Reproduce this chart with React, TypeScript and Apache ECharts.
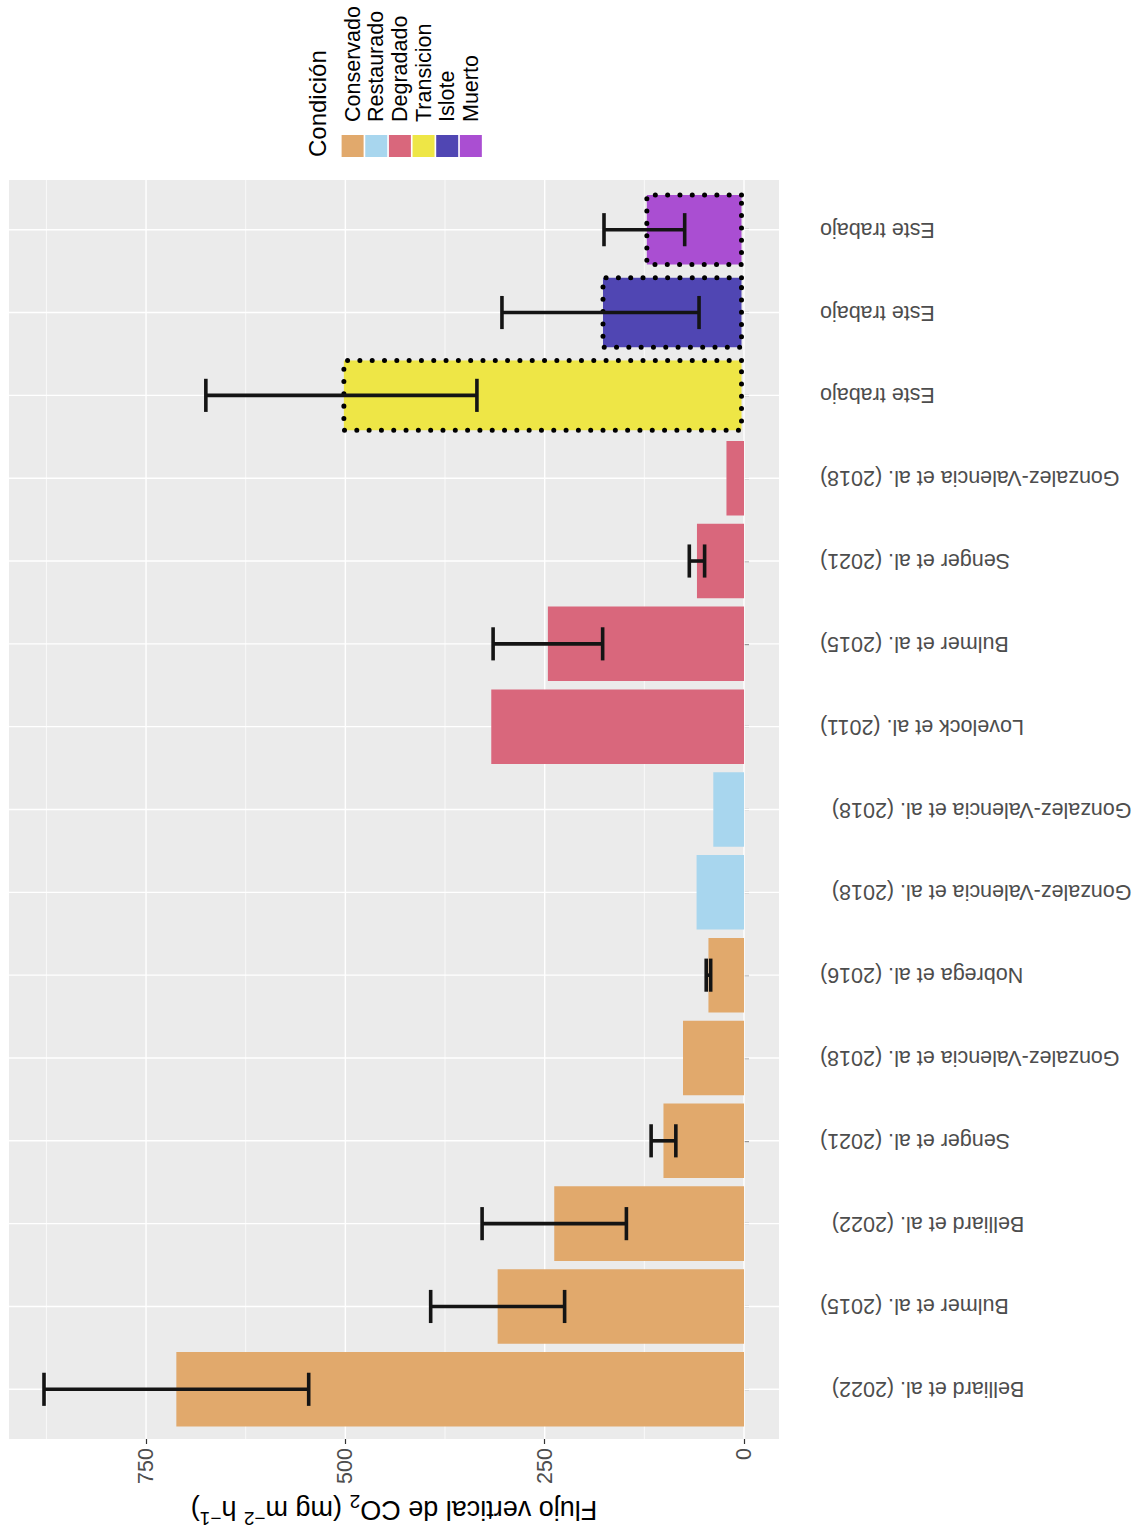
import { useEffect, useRef } from "react";
import * as echarts from "echarts";

// Studies, listed from the first bar (bottom) to the last (top).
// Repeated studies carry trailing spaces so each factor level stays distinct.
const CATEGORIES = [
  "Belliard et al. (2022)  ",
  "Bulmer et al. (2015)",
  "Belliard et al. (2022)  ",
  "Senger et al. (2021)",
  "Gonzalez-Valencia et al. (2018)",
  "Nobrega et al. (2016)",
  "Gonzalez-Valencia et al. (2018)  ",
  "Gonzalez-Valencia et al. (2018)  ",
  "Lovelock et al. (2011)",
  "Bulmer et al. (2015)",
  "Senger et al. (2021)",
  "Gonzalez-Valencia et al. (2018)",
  "Este trabajo",
  "Este trabajo",
  "Este trabajo",
];

// Mangrove condition of each bar
const BAR_CONDITION = [
  "Conservado",
  "Conservado",
  "Conservado",
  "Conservado",
  "Conservado",
  "Conservado",
  "Restaurado",
  "Restaurado",
  "Degradado",
  "Degradado",
  "Degradado",
  "Degradado",
  "Transicion",
  "Islote",
  "Muerto",
];

// Mean vertical CO2 flux (mg m-2 h-1) and its error (null = not reported)
const FLUX = [712, 309, 238, 101, 76.5, 44.6, 59.5, 38.5, 317, 246, 59, 22, 505, 180, 125];
const FLUX_ERR = [166, 84, 90.5, 15.5, null, 2.8, null, null, null, 68.7, 9.6, null, 170, 123.6, 50.6];

// Bars measured in this work get a dotted outline
const THIS_WORK = [false, false, false, false, false, false, false, false, false, false, false, false, true, true, true];

// Legend
const CONDITIONS = ["Conservado", "Restaurado", "Degradado", "Transicion", "Islote", "Muerto"];
const CONDITION_COLORS = ["#E1A96C", "#A8D6EE", "#D9677C", "#EEE646", "#5046B3", "#AA4ED2"];

// Value axis breaks
const MAJOR_BREAKS = [0, 250, 500, 750];
const MINOR_BREAKS = [-125, 125, 375, 625, 875];

const FONT = "'Liberation Sans', Arial, Helvetica, sans-serif";

// Panel box; the discrete axis is padded by 0.6 of a band on each side
const PANEL_LEFT = 9;
const PANEL_TOP = 180;
const PANEL_WIDTH = 770;
const PANEL_HEIGHT = 1259;

export default function App() {
  const ref = useRef<HTMLDivElement>(null);

  useEffect(() => {
    if (!ref.current) return;
    const chart = echarts.init(ref.current, undefined, { renderer: "svg" });

    const n = CATEGORIES.length;
    // categories sit at 1..n, panel spans 0.4 .. n + 0.6
    const band = PANEL_HEIGHT / (n + 0.2);
    const ext = band * 0.1;

    const upper = FLUX.map((v, i) => v + (FLUX_ERR[i] ?? 0));
    const dataMax = Math.max(...upper);
    const pad = dataMax * 0.05;
    const xMin = -pad;
    const xMax = dataMax + pad;

    const colorOf = (c: string) => CONDITION_COLORS[CONDITIONS.indexOf(c)];

    const barData = FLUX.map((v, i) => ({
      value: v,
      itemStyle: THIS_WORK[i]
        ? {
            color: colorOf(BAR_CONDITION[i]),
            borderColor: "#000",
            borderWidth: 5,
            borderType: [0.01, 12.3],
            borderCap: "round",
          }
        : { color: colorOf(BAR_CONDITION[i]), borderWidth: 0 },
    }));

    const errData = FLUX.map((v, i) =>
      FLUX_ERR[i] == null ? null : [v - (FLUX_ERR[i] as number), v + (FLUX_ERR[i] as number), i]
    ).filter((d) => d !== null);

    const valueGrid = (breaks: number[], width: number) => ({
      type: "custom",
      z: 1,
      silent: true,
      clip: false,
      data: breaks.filter((b) => b > xMin && b < xMax).map((b) => [b, 0]),
      encode: { x: 0, y: 1 },
      renderItem: (params: any, api: any) => {
        const cs = params.coordSys;
        const x = api.coord([api.value(0), 0])[0];
        return {
          type: "line",
          shape: { x1: x, y1: cs.y - ext, x2: x, y2: cs.y + cs.height + ext },
          style: { stroke: "#FFFFFF", lineWidth: width },
        };
      },
    });

    const legendGraphics: any[] = [
      {
        type: "text",
        x: 317,
        y: 157,
        rotation: Math.PI / 2,
        style: {
          text: "Condición",
          fontSize: 24,
          fontFamily: FONT,
          fill: "#000",
          align: "left",
          verticalAlign: "middle",
        },
      },
    ];
    CONDITIONS.forEach((c, k) => {
      const x0 = 341.6 + k * 23.65;
      legendGraphics.push({
        type: "rect",
        shape: { x: x0, y: 135, width: 22, height: 22 },
        style: { fill: CONDITION_COLORS[k] },
      });
      legendGraphics.push({
        type: "text",
        x: x0 + 11,
        y: 122,
        rotation: Math.PI / 2,
        style: {
          text: c,
          fontSize: 21.5,
          fontFamily: FONT,
          fill: "#000",
          align: "left",
          verticalAlign: "middle",
        },
      });
    });

    const tickLine = { color: "#333333", width: 1.2 };

    chart.setOption({
      animation: false,
      backgroundColor: "#FFFFFF",
      textStyle: { fontFamily: FONT },
      grid: {
        left: PANEL_LEFT,
        top: PANEL_TOP + ext,
        width: PANEL_WIDTH,
        height: n * band,
        show: false,
        containLabel: false,
        outerBoundsMode: "none",
      },
      xAxis: {
        type: "value",
        inverse: true,
        min: xMin,
        max: xMax,
        position: "bottom",
        offset: ext,
        axisLine: { show: false },
        axisTick: { show: true, customValues: MAJOR_BREAKS, length: 5, lineStyle: tickLine },
        axisLabel: {
          customValues: MAJOR_BREAKS,
          rotate: 90,
          margin: 9,
          fontSize: 21.5,
          color: "#4D4D4D",
          fontFamily: FONT,
        },
        splitLine: { show: false },
        name: "{b|Flujo vertical de CO}{s|2}{b| (mg m}{p|−2}{b| h}{p|−1}{b|)}",
        nameLocation: "middle",
        nameGap: 50,
        nameRotate: 180,
        nameTextStyle: {
          color: "#000",
          fontFamily: FONT,
          rich: {
            b: { fontSize: 27, lineHeight: 36, color: "#000", fontFamily: FONT },
            s: { fontSize: 19, lineHeight: 19, verticalAlign: "bottom", color: "#000", fontFamily: FONT },
            p: { fontSize: 19, lineHeight: 19, verticalAlign: "top", color: "#000", fontFamily: FONT },
          },
        },
      },
      yAxis: {
        type: "category",
        data: CATEGORIES,
        position: "right",
        axisLine: { show: false },
        axisTick: { show: true, alignWithLabel: true, length: 5, lineStyle: tickLine },
        axisLabel: {
          interval: 0,
          rotate: 180,
          margin: 41,
          padding: [16, 0, 0, 0],
          fontSize: 21.5,
          color: "#4D4D4D",
          fontFamily: FONT,
        },
        splitLine: { show: false },
      },
      series: [
        {
          // grey panel background
          type: "custom",
          z: 0,
          silent: true,
          clip: false,
          data: [[0, 0]],
          encode: { x: 0, y: 1 },
          renderItem: (params: any) => {
            const cs = params.coordSys;
            return {
              type: "rect",
              shape: { x: cs.x, y: cs.y - ext, width: cs.width, height: cs.height + 2 * ext },
              style: { fill: "#EBEBEB" },
            };
          },
        },
        valueGrid(MINOR_BREAKS, 0.7),
        valueGrid(MAJOR_BREAKS, 1.4),
        {
          type: "custom",
          z: 1,
          silent: true,
          data: CATEGORIES.map((_, i) => [0, i]),
          encode: { x: 0, y: 1 },
          renderItem: (params: any, api: any) => {
            const cs = params.coordSys;
            const y = api.coord([0, api.value(1)])[1];
            return {
              type: "line",
              shape: { x1: cs.x, y1: y, x2: cs.x + cs.width, y2: y },
              style: { stroke: "#FFFFFF", lineWidth: 1.4 },
            };
          },
        },
        {
          type: "bar",
          z: 2,
          barWidth: "90%",
          data: barData,
        },
        {
          type: "custom",
          z: 3,
          silent: true,
          data: errData,
          encode: { x: [0, 1], y: 2 },
          renderItem: (params: any, api: any) => {
            const idx = api.value(2);
            const lo = api.coord([api.value(0), idx]);
            const hi = api.coord([api.value(1), idx]);
            const half = api.size([0, 1])[1] * 0.2;
            const style = { stroke: "#141414", lineWidth: 3.6 };
            return {
              type: "group",
              children: [
                { type: "line", shape: { x1: lo[0], y1: lo[1], x2: hi[0], y2: hi[1] }, style },
                { type: "line", shape: { x1: lo[0], y1: lo[1] - half, x2: lo[0], y2: lo[1] + half }, style },
                { type: "line", shape: { x1: hi[0], y1: hi[1] - half, x2: hi[0], y2: hi[1] + half }, style },
              ],
            };
          },
        },
      ],
      graphic: legendGraphics,
    });

    return () => chart.dispose();
  }, []);

  return (
    <div
      ref={ref}
      style={{ position: "absolute", left: 0, top: 0, width: 1147, height: 1530, background: "#FFFFFF" }}
    />
  );
}
